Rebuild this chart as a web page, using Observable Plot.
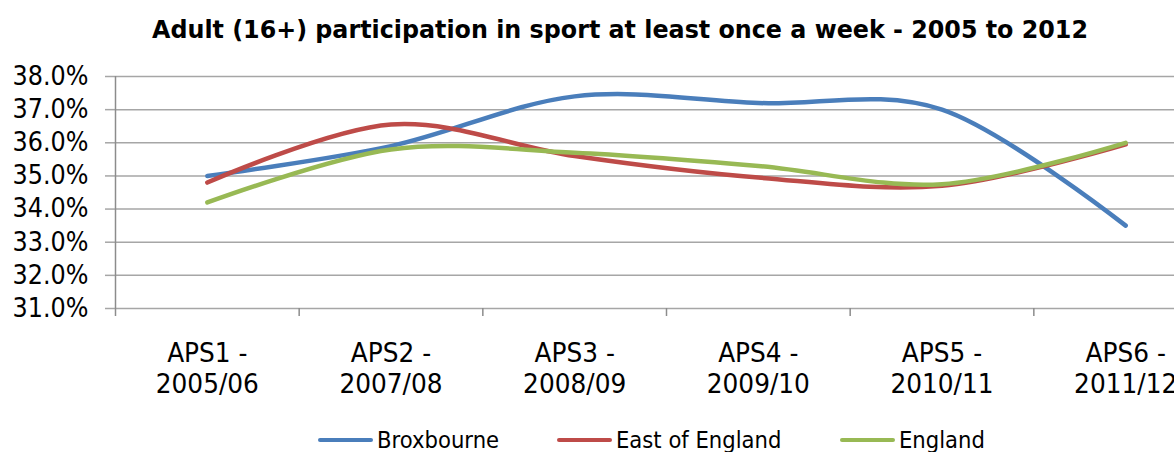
<!DOCTYPE html>
<html>
<head>
<meta charset="utf-8">
<script src="https://cdn.jsdelivr.net/npm/d3@7"></script>
<script src="https://cdn.jsdelivr.net/npm/@observablehq/plot@0.6"></script>
<style>
  html, body { margin: 0; padding: 0; background: #fff; }
  body { width: 1174px; height: 452px; overflow: hidden; position: relative; font-family: "DejaVu Sans", sans-serif; }
  #title { position: relative; height: 56px; width: 1174px; }
  #title span { position: absolute; left: 620px; top: 15px; white-space: nowrap; font-weight: bold; font-size: 25px; line-height: 30px; color: #000; transform-origin: center; }
  #chart { height: 364px; width: 1174px; overflow: hidden; }
  #chart svg { max-width: none !important; }
  #legend { position: relative; height: 32px; width: 1174px; }
  .item { position: absolute; top: 0; height: 40px; }
  .sw { position: absolute; top: 18px; left: 0; width: 55px; height: 4px; border-radius: 2px; }
  .lab { position: absolute; top: 0; left: 59px; line-height: 40px; font-size: 23px; white-space: nowrap; transform: scaleX(0.92); transform-origin: left center; color: #000; }
</style>
</head>
<body>
<div id="title"><span></span></div>
<div id="chart"></div>
<div id="legend"></div>
<script>
const titleText = "Adult (16+) participation in sport at least once a week - 2005 to 2012";
const categories = ["APS1 -\n2005/06", "APS2 -\n2007/08", "APS3 -\n2008/09", "APS4 -\n2009/10", "APS5 -\n2010/11", "APS6 -\n2011/12"];
const seriesNames = ["Broxbourne", "East of England", "England"];
const broxbourne = [35.0, 35.9, 37.4, 37.2, 37.0, 33.5];
const eastOfEngland = [34.8, 36.55, 35.6, 34.95, 34.7, 35.95];
const england = [34.2, 35.8, 35.7, 35.3, 34.75, 36.0];
const yTicks = [31, 32, 33, 34, 35, 36, 37, 38];
const colors = ["#4a7ebb", "#be4b48", "#98b954"];
const legendLeft = [318, 557, 840];

const seriesValues = [broxbourne, eastOfEngland, england];
const data = [];
seriesNames.forEach((name, s) => seriesValues[s].forEach((v, i) => data.push({series: name, i, value: v})));
const boundaries = d3.range(categories.length + 1).map(i => i - 0.5);

const gridColor = "#a6a6a6";
const axisColor = "#8c8c8c";

const chart = Plot.plot({
  width: 1290,
  height: 364,
  marginTop: 20,
  marginBottom: 112,
  marginLeft: 115,
  marginRight: 73,
  x: {type: "linear", domain: [-0.5, categories.length - 0.5], axis: null},
  y: {domain: [31, 38], axis: null},
  color: {domain: seriesNames, range: colors},
  style: {fontFamily: "DejaVu Sans", background: "white", overflow: "visible", maxWidth: "none"},
  marks: [
    Plot.gridY(yTicks, {stroke: gridColor, strokeOpacity: 1, strokeWidth: 1.5}),
    Plot.axisY(yTicks, {tickSize: 10, tickPadding: 17, tickFormat: d => d.toFixed(1) + "%", fontSize: 26, stroke: gridColor, fill: "#000", strokeWidth: 1.5, label: null}),
    Plot.ruleX([-0.5], {stroke: axisColor, strokeWidth: 1.5}),
    Plot.axisX(boundaries, {tickSize: 8, tickFormat: () => "", stroke: axisColor, strokeWidth: 1.5, label: null}),
    Plot.text(categories, {x: (d, i) => i, text: d => d, frameAnchor: "bottom", dy: 31, lineAnchor: "top", lineHeight: 1.15, fontSize: 27, fill: "#000"}),
    Plot.line(data, {x: "i", y: "value", z: "series", stroke: "series", curve: "cardinal", strokeWidth: 4.5, strokeLinecap: "round", strokeLinejoin: "round"})
  ]
});
chart.querySelectorAll("text").forEach(t => {
  const tr = t.getAttribute("transform") || "";
  t.setAttribute("transform", tr + " scale(0.92,1)");
});
document.getElementById("chart").appendChild(chart);

const tspan = document.querySelector("#title span");
tspan.textContent = titleText;
const w = tspan.getBoundingClientRect().width;
tspan.style.transform = `translateX(-50%) scaleX(${936 / w})`;

const legend = document.getElementById("legend");
seriesNames.forEach((name, s) => {
  const item = document.createElement("div");
  item.className = "item";
  item.style.left = legendLeft[s] + "px";
  const sw = document.createElement("div");
  sw.className = "sw";
  sw.style.background = colors[s];
  const lab = document.createElement("span");
  lab.className = "lab";
  lab.textContent = name;
  item.appendChild(sw);
  item.appendChild(lab);
  legend.appendChild(item);
});
</script>
</body>
</html>
